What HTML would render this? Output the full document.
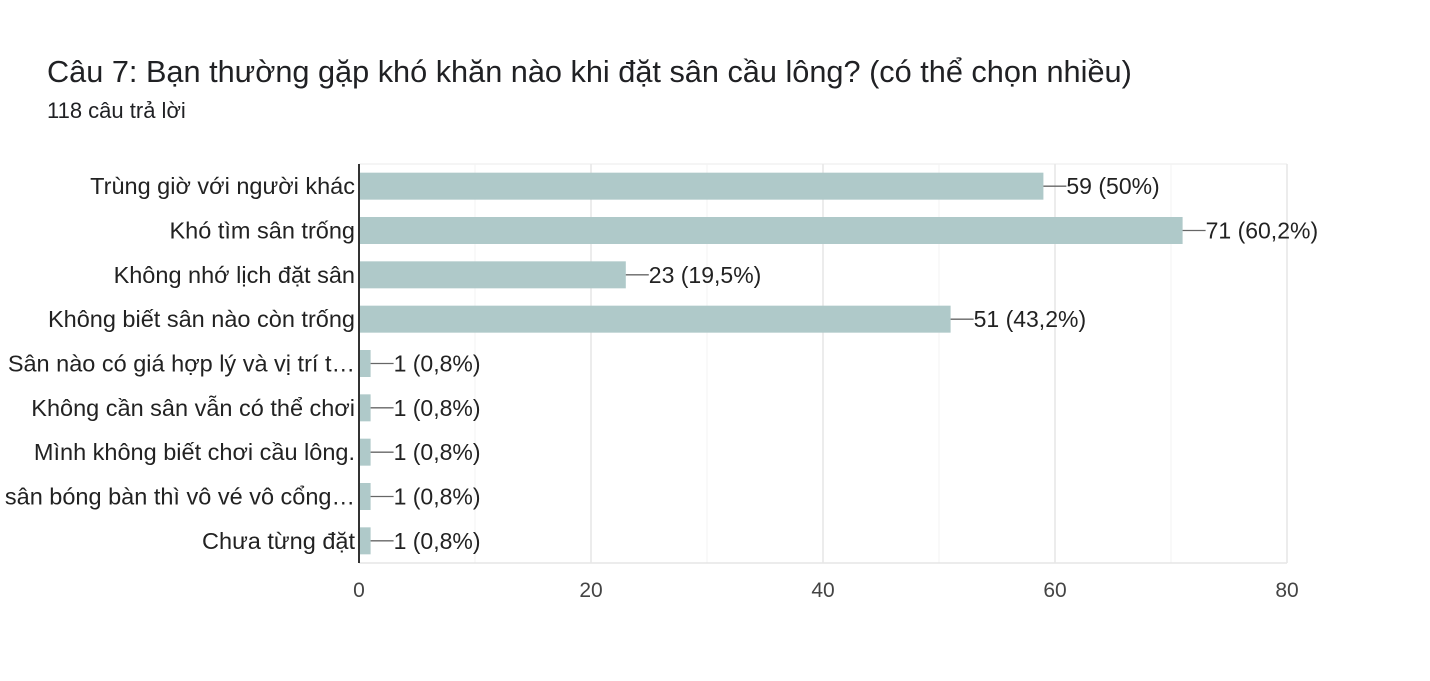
<!DOCTYPE html>
<html><head><meta charset="utf-8"><style>
body{margin:0;background:#fff;width:1430px;height:681px;overflow:hidden;font-family:"Liberation Sans",Arial,sans-serif}
#title{position:absolute;left:47px;top:54px;font-size:30.7px;color:#202124}
#sub{position:absolute;left:47px;top:98px;font-size:22px;color:#202124}
svg{position:absolute;left:0;top:0}
</style></head><body>
<div id="title">Câu 7: Bạn thường gặp khó khăn nào khi đặt sân cầu lông? (có thể chọn nhiều)</div>
<div id="sub">118 câu trả lời</div>
<svg id="chart" width="1430" height="681"></svg>
<script>
const categories=["Trùng giờ với người khác","Khó tìm sân trống","Không nhớ lịch đặt sân","Không biết sân nào còn trống","Sân nào có giá hợp lý và vị trí t…","Không cần sân vẫn có thể chơi","Mình không biết chơi cầu lông.","sân bóng bàn thì vô vé vô cổng…","Chưa từng đặt"];
const values=[59,71,23,51,1,1,1,1,1];
const valueLabels=["59 (50%)","71 (60,2%)","23 (19,5%)","51 (43,2%)","1 (0,8%)","1 (0,8%)","1 (0,8%)","1 (0,8%)","1 (0,8%)"];
const tickValues=[0,20,40,60,80];
const minorTicks=[10,30,50,70];
const NS="http://www.w3.org/2000/svg";
const svg=document.getElementById('chart');
const x0=359,x1=1287,xMax=80,plotTop=164,plotBottom=563;
const rowH=(plotBottom-plotTop)/categories.length, barH=27;
const xs=v=>x0+(x1-x0)*v/xMax;
function mk(t,a){const e=document.createElementNS(NS,t);for(const k in a)e.setAttribute(k,a[k]);svg.appendChild(e);return e;}
let e;
e=mk('line',{x1:x0,x2:x1,y1:plotTop,y2:plotTop,stroke:'#ebebeb','stroke-width':1});


minorTicks.forEach(v=>{e=mk('line',{x1:xs(v),x2:xs(v),y1:plotTop,y2:plotBottom,stroke:'#f3f3f3','stroke-width':1});

});
tickValues.forEach(v=>{if(v>0){e=mk('line',{x1:xs(v),x2:xs(v),y1:plotTop,y2:plotBottom,stroke:'#e6e6e6','stroke-width':1.5});

}
e=mk('text',{x:xs(v),y:597,'text-anchor':'middle','font-size':21,fill:'#444'});e.textContent=v;

});
e=mk('line',{x1:x0,x2:x1,y1:plotBottom,y2:plotBottom,stroke:'#e6e6e6','stroke-width':1.5});


categories.forEach((c,i)=>{
 const cy=plotTop+rowH*(i+0.5);
 e=mk('text',{x:355,y:cy+8,'text-anchor':'end','font-size':23.5,fill:'#222'});e.textContent=c;
 
 
 e=mk('rect',{x:x0,y:cy-barH/2,width:xs(values[i])-x0,height:barH,fill:'#afc9c9'});
 
 
 const xe=xs(values[i]);
 e=mk('line',{x1:xe,x2:xe+23,y1:cy,y2:cy,stroke:'#666','stroke-width':1.3});
 
 
 e=mk('text',{x:xe+23,y:cy+8,'font-size':23,fill:'#222'});e.textContent=valueLabels[i];
 
 
});
e=mk('line',{x1:x0,x2:x0,y1:plotTop,y2:plotBottom,stroke:'#333','stroke-width':2});


</script>
</body></html>
